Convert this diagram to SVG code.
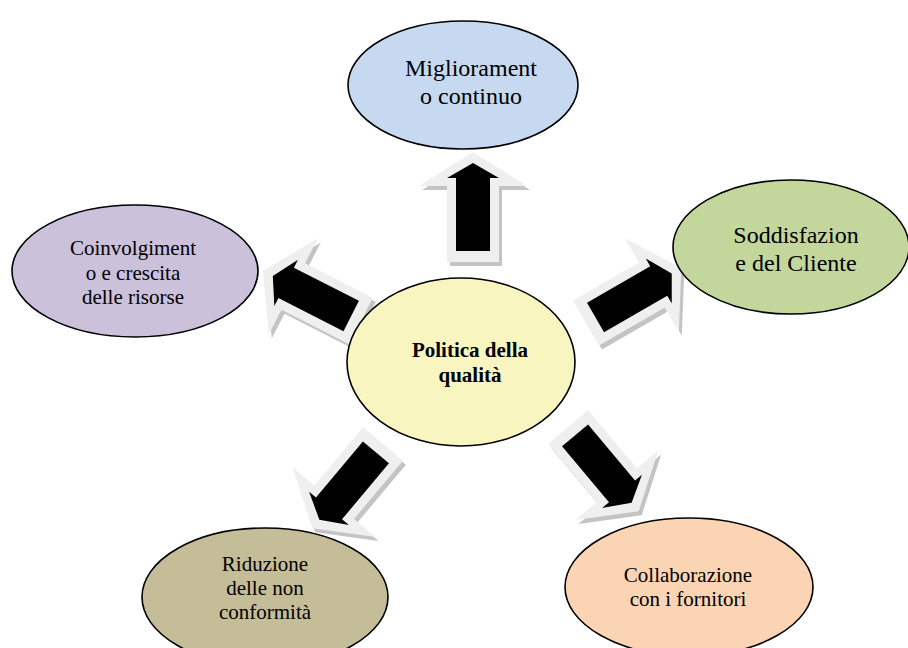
<svg xmlns="http://www.w3.org/2000/svg" xmlns:xlink="http://www.w3.org/1999/xlink" width="908" height="648" viewBox="0 0 908 648">
<style>
.node{stroke:#000;stroke-width:1.6}
.t{font-family:"Liberation Serif","Times New Roman",serif;fill:#000;text-anchor:middle}
.s21{font-size:21px}
.s24{font-size:24px}
.b{font-weight:bold;font-size:21px}
.sh{fill:#c4c4c4}
.out{fill:#efefef}
.in{fill:#000}
</style>
<defs>
<polygon id="outer" points="-26,0 -26,-76 -54,-76 0,-110 54,-76 26,-76 26,0"/>
<polygon id="inner" points="-17,-11 -17,-84 -26,-84 0,-99 26,-84 17,-84 17,-11"/>
<g id="arrowbody">
<use xlink:href="#outer" class="out"/>
<use xlink:href="#inner" class="in"/>
</g>
</defs>
<rect width="908" height="648" fill="#fff"/>
<g id="connectors">
<g id="arrow-up">
<g transform="translate(3,4)"><use xlink:href="#outer" class="sh" transform="translate(473,262)"/></g>
<use xlink:href="#arrowbody" transform="translate(473,262)"/>
</g>
<g id="arrow-right">
<g transform="translate(3,4)"><use xlink:href="#outer" class="sh" transform="translate(586,323) rotate(60)"/></g>
<use xlink:href="#arrowbody" transform="translate(586,323) rotate(60)"/>
</g>
<g id="arrow-left">
<g transform="translate(3,4)"><use xlink:href="#outer" class="sh" transform="translate(361,321) rotate(-63)"/></g>
<use xlink:href="#arrowbody" transform="translate(361,321) rotate(-63)"/>
</g>
<g id="arrow-downleft">
<g transform="translate(3,4)"><use xlink:href="#outer" class="sh" transform="translate(383,444) rotate(220)"/></g>
<use xlink:href="#arrowbody" transform="translate(383,444) rotate(220)"/>
</g>
<g id="arrow-downright">
<g transform="translate(3,4)"><use xlink:href="#outer" class="sh" transform="translate(568,427) rotate(140)"/></g>
<use xlink:href="#arrowbody" transform="translate(568,427) rotate(140)"/>
</g>
</g>
<g id="node-miglioramento">
<ellipse class="node" cx="463" cy="85" rx="115" ry="64" fill="#c6d9f1"/>
<text class="t s24" x="471" y="76">Migliorament</text>
<text class="t s24" x="471" y="104">o continuo</text>
</g>
<g id="node-soddisfazione">
<ellipse class="node" cx="791" cy="247" rx="118" ry="67" fill="#c3d69b"/>
<text class="t s24" x="796" y="243">Soddisfazion</text>
<text class="t s24" x="796" y="271">e del Cliente</text>
</g>
<g id="node-coinvolgimento">
<ellipse class="node" cx="135" cy="271" rx="123" ry="66" fill="#ccc1da"/>
<text class="t s21" x="133" y="255">Coinvolgiment</text>
<text class="t s21" x="133" y="280">o e crescita</text>
<text class="t s21" x="133" y="304">delle risorse</text>
</g>
<g id="node-politica">
<ellipse class="node" cx="461" cy="362" rx="114" ry="84" fill="#f9f5c1"/>
<text class="t b" x="470" y="357">Politica della</text>
<text class="t b" x="470" y="382">qualità</text>
</g>
<g id="node-riduzione">
<ellipse class="node" cx="265" cy="597" rx="123" ry="69" fill="#c4bd97"/>
<text class="t s21" x="265" y="571">Riduzione</text>
<text class="t s21" x="265" y="595">delle non</text>
<text class="t s21" x="265" y="619">conformità</text>
</g>
<g id="node-collaborazione">
<ellipse class="node" cx="689" cy="587" rx="124" ry="69" fill="#fbd4b4"/>
<text class="t s21" x="688" y="582">Collaborazione</text>
<text class="t s21" x="688" y="606">con i fornitori</text>
</g>
</svg>
